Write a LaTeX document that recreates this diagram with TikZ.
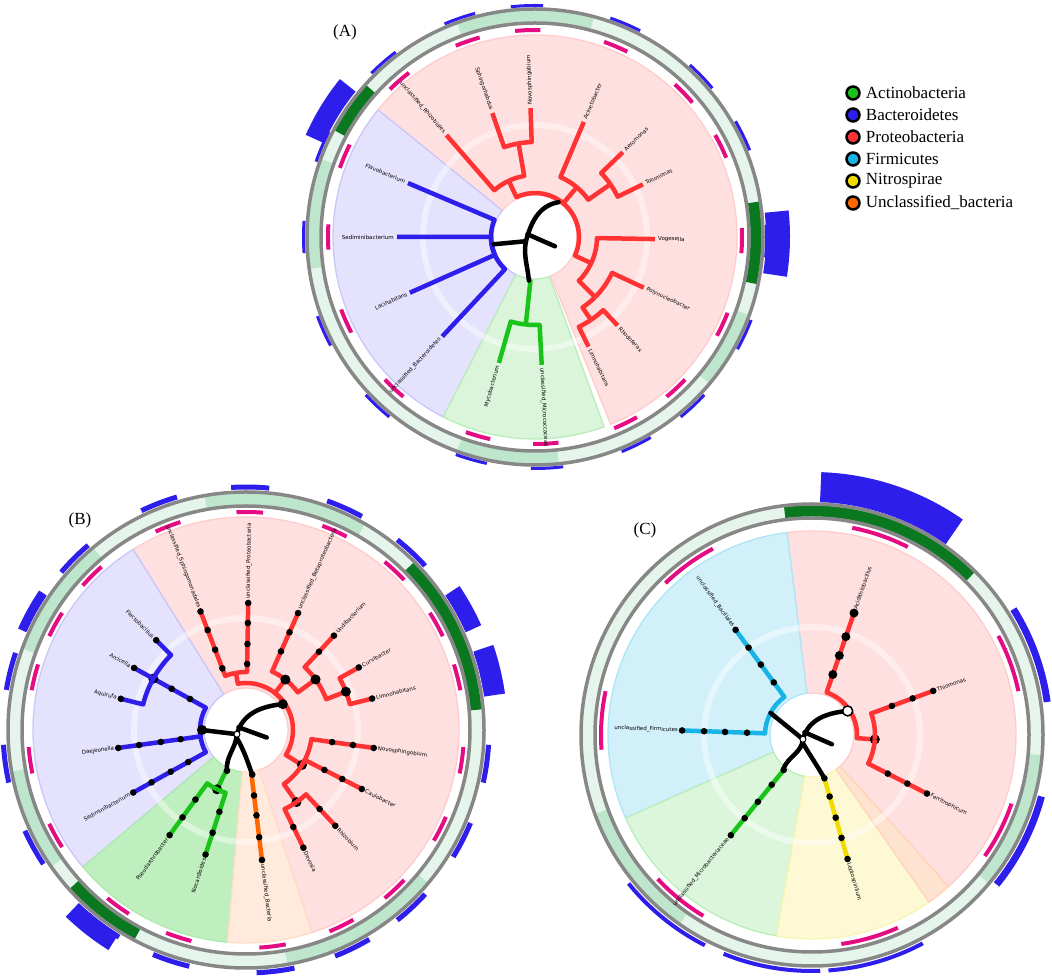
\documentclass[tikz,border=0pt]{standalone}
\usepackage{fontspec}
\setmainfont{Liberation Serif}
\setsansfont{DejaVu Sans}
\usetikzlibrary{calc, positioning}
\definecolor{proteo}{RGB}{255,51,51}
\definecolor{bactero}{RGB}{45,30,235}
\definecolor{actino}{RGB}{25,195,25}
\definecolor{firmi}{RGB}{25,180,230}
\definecolor{nitro}{RGB}{240,220,0}
\definecolor{uncl}{RGB}{255,102,0}
\definecolor{bandlt}{RGB}{230,245,235}
\definecolor{bandmd}{RGB}{190,230,205}
\definecolor{banddk}{RGB}{10,120,30}
\definecolor{ringgrey}{RGB}{135,135,135}
\tikzset{
  branch/.style={line width=4.5pt, line join=round},
  stem/.style={black, line width=4.5pt, line cap=round},
  leaf/.style={font=\sffamily\fontsize{5.5}{6}\selectfont, inner sep=1pt},
  magline/.style={magenta!85!purple, line width=4pt},
  legdot/.style={circle, draw=black, line width=2.5pt, minimum size=13pt, inner sep=0pt},
  legtxt/.style={font=\fontsize{17}{19}\selectfont, inner sep=0pt, anchor=west}
}
% centre, from, to, outer radius, fill, edge
\newcommand\clade[6]{\filldraw[fill=#5, draw=#6, line width=1.3pt]
  ($(#1)+(#2:42)$) arc[start angle=#2, end angle=#3, radius=42]
  -- ($(#1)+(#3:#4)$) arc[start angle=#3, end angle=#2, radius=#4] -- cycle;}
\newcommand\brch[6]{\draw[branch,#6] ($(#1)+(#2:#3)$)
  arc[start angle=#2, end angle=#4, radius=#3] -- ($(#1)+(#4:#5)$);}
\newcommand\tdots[3]{\foreach \rr in {#3} {\fill ($(#1)+(#2:\rr)$) circle (3.3);}}
\newcommand\bigdot[3]{\fill ($(#1)+(#2:#3)$) circle (5);}
\newcommand\labR[4]{\node[leaf, rotate=#2, anchor=west] at ($(#1)+(#2:#3)$) {#4};}
\newcommand\labL[4]{\node[leaf, rotate=#2+180, anchor=east] at ($(#1)+(#2:#3)$) {#4};}
\newcommand\arcband[5]{\draw[#5] ($(#1)+(#2:#4)$) arc[start angle=#2, end angle=#3, radius=#4];}

\begin{document}
\begin{tikzpicture}[x=1pt, y=1pt]
\useasboundingbox (0,0) rectangle (1052,977);
\coordinate (A) at (535,740);
\coordinate (B) at (246,247);
\coordinate (C) at (812,242);

% ---------- (A)
\clade{A}{-68}{141}{202}{proteo!15}{proteo!25}
\clade{A}{141}{243}{202}{bactero!13}{bactero!25}
\clade{A}{243}{290}{202}{actino!16}{actino!30}
\draw[white, opacity=.45, line width=6pt] (A) circle (112);
\fill[white] (A) circle (40);
\draw[line width=11pt, bandlt] (A) circle (221);
\foreach \a/\b in {75/110, 160/188, 250/276, -40/-20} {\arcband{A}{\a}{\b}{221}{line width=11pt, bandmd}}
\foreach \a/\b in {-12/9, 138/152} {\arcband{A}{\a}{\b}{221}{line width=11pt, banddk}}
\draw[ringgrey, line width=3.5pt] (A) circle (214) (A) circle (228);
\foreach \a in {-1,-25,-47,-64,26,44,67,92,109,131,157,180,204,227,254,273}
  {\arcband{A}{\a-3.5}{\a+3.5}{207}{magline}
   \arcband{A}{\a-4}{\a+4}{231.5}{bactero, line width=3pt}}
\arcband{A}{-9}{6}{243}{bactero, line width=24pt}
\arcband{A}{141}{156}{241}{bactero, line width=20pt}
% red
\brch{A}{56}{44}{115}{62}{proteo}
\brch{A}{115}{62}{131}{135}{proteo}
\brch{A}{115}{62}{100}{95}{proteo}
\brch{A}{100}{95}{92}{129}{proteo}
\brch{A}{100}{95}{109}{131}{proteo}
\brch{A}{56}{44}{50}{65}{proteo}
\brch{A}{50}{65}{67}{125}{proteo}
\brch{A}{50}{65}{35}{92}{proteo}
\brch{A}{35}{92}{26}{120}{proteo}
\brch{A}{35}{92}{44}{122}{proteo}
\brch{A}{56}{44}{-25}{62}{proteo}
\brch{A}{-25}{62}{-1}{120}{proteo}
\brch{A}{-25}{62}{-45}{85}{proteo}
\brch{A}{-45}{85}{-25}{120}{proteo}
\brch{A}{-45}{85}{-56}{100}{proteo}
\brch{A}{-56}{100}{-47}{121}{proteo}
\brch{A}{-56}{100}{-64}{122}{proteo}
% blue and green
\foreach \a/\r in {157/138, 180/138, 204/137, 227/136} {\brch{A}{190}{44}{\a}{\r}{bactero}}
\brch{A}{262}{44}{264}{88}{actino}
\brch{A}{264}{88}{254}{131}{actino}
\brch{A}{264}{88}{273}{128}{actino}
\draw[stem] ($(A)+(205:10)$) to[out=75,in=190] ($(A)+(56:42)$);
\draw[stem] ($(A)+(205:10)$) -- ($(A)+(190:42)$);
\draw[stem] ($(A)+(205:10)$) to[out=-100,in=95] ($(A)+(262:44)$);
\draw[stem] ($(A)+(160:8)$) -- ($(A)+(-25:22)$);
\foreach \a/\r/\t in {-1/120/Vogesella, -25/120/Polynucleobacter, -47/121/Rhodoferax,
  -64/122/Limnohabitans, 26/120/Tolumonas, 44/122/Aeromonas, 67/125/Acinetobacter,
  92/129/Novosphingobium, 273/128/unclassified\_Micrococcaceae}
  {\labR{A}{\a}{\r+2}{\t}}
\foreach \a/\r/\t in {109/131/Sphingorhabdus, 131/135/unclassified\_Rhizobiales,
  157/138/Flavobacterium, 180/138/Sediminibacterium, 204/137/Lacihabitans,
  227/136/unclassified\_Bacteroidetes, 254/131/Mycobacterium}
  {\labL{A}{\a}{\r+2}{\t}}

% ---------- (B)
\clade{B}{-72}{122}{213}{proteo!15}{proteo!25}
\clade{B}{122}{220}{213}{bactero!13}{bactero!25}
\clade{B}{220}{265}{213}{actino!28}{actino!35}
\clade{B}{265}{288}{213}{uncl!14}{uncl!22}
\draw[white, opacity=.45, line width=6pt] (B) circle (112);
\fill[white] (B) circle (40);
\draw[line width=11pt, bandlt] (B) circle (231);
\foreach \a/\b in {60/100, 130/160, 190/215, 280/320} {\arcband{B}{\a}{\b}{231}{line width=11pt, bandmd}}
\foreach \a/\b in {5/45, 222/242} {\arcband{B}{\a}{\b}{231}{line width=11pt, banddk}}
\draw[ringgrey, line width=3.5pt] (B) circle (224) (B) circle (238);
\foreach \a in {111,89,66,47,29,14,-8,-27,-47,-64,-83,252,234,209,188,166,151,135}
  {\arcband{B}{\a-3.5}{\a+3.5}{218}{magline}
   \arcband{B}{\a-4.5}{\a+4.5}{243}{bactero, line width=5pt}}
\arcband{B}{24}{34}{249}{bactero, line width=17pt}
\arcband{B}{8}{19}{251}{bactero, line width=21pt}
\arcband{B}{226}{238}{250}{bactero, line width=19pt}
\arcband{B}{146}{156}{245}{bactero, line width=9pt}
% red
\brch{B}{35}{47}{100}{58}{proteo}
\brch{B}{100}{58}{111}{127}{proteo}
\brch{B}{100}{58}{89}{127}{proteo}
\tdots{B}{111}{66,86,107,127}
\tdots{B}{89}{66,86,107,127}
\brch{B}{35}{47}{52}{64}{proteo}
\brch{B}{52}{64}{66}{128}{proteo}
\tdots{B}{66}{86,107,128}
\brch{B}{52}{64}{36}{86}{proteo}
\brch{B}{36}{86}{47}{129}{proteo}
\tdots{B}{47}{107,129}
\brch{B}{36}{86}{21}{107}{proteo}
\brch{B}{21}{107}{29}{129}{proteo}
\brch{B}{21}{107}{14}{130}{proteo}
\tdots{B}{29}{129}
\tdots{B}{14}{130}
\bigdot{B}{52}{64} \bigdot{B}{36}{86} \bigdot{B}{21}{107}
\brch{B}{35}{47}{-32}{66}{proteo}
\bigdot{B}{-32}{66}
\brch{B}{-32}{66}{-8}{129}{proteo}
\tdots{B}{-8}{87,108,129}
\brch{B}{-32}{66}{-27}{130}{proteo}
\tdots{B}{-27}{88,108,130}
\brch{B}{-32}{66}{-55}{88}{proteo}
\bigdot{B}{-55}{88}
\brch{B}{-55}{88}{-47}{131}{proteo}
\brch{B}{-55}{88}{-64}{131}{proteo}
\tdots{B}{-47}{108,131}
\tdots{B}{-64}{108,131}
% orange, green, blue
\brch{B}{278}{45}{277}{131}{uncl}
\tdots{B}{277}{66,86,108,131}
\brch{B}{245}{45}{244}{66}{actino}
\bigdot{B}{244}{66}
\brch{B}{244}{66}{234}{130}{actino}
\brch{B}{244}{66}{252}{131}{actino}
\tdots{B}{234}{86,108,130}
\tdots{B}{252}{86,108,131}
\brch{B}{180}{46}{209}{129}{bactero}
\brch{B}{180}{46}{188}{129}{bactero}
\tdots{B}{209}{66,86,108,129}
\tdots{B}{188}{66,86,108,129}
\brch{B}{180}{46}{151}{106}{bactero}
\tdots{B}{151}{64,85}
\bigdot{B}{151}{106}
\brch{B}{151}{106}{151}{128}{bactero}
\brch{B}{151}{106}{166}{129}{bactero}
\brch{B}{151}{106}{135}{127}{bactero}
\tdots{B}{151}{128} \tdots{B}{166}{129} \tdots{B}{135}{127}
\draw[stem] ($(B)+(205:10)$) to[out=75,in=185] ($(B)+(35:45)$);
\draw[stem] ($(B)+(205:10)$) -- ($(B)+(180:44)$);
\draw[stem] ($(B)+(205:10)$) to[out=-95,in=95] ($(B)+(245:45)$);
\draw[stem] ($(B)+(215:12)$) to[out=-60,in=110] ($(B)+(278:45)$);
\draw[stem] ($(B)+(160:8)$) -- ($(B)+(-20:22)$);
\bigdot{B}{35}{45} \bigdot{B}{180}{44} \tdots{B}{245}{45} \tdots{B}{278}{45}
\draw[black, fill=white, line width=1pt] ($(B)+(205:10)$) circle (3);
\foreach \a/\r/\t in {89/127/unclassified\_Proteobacteria, 66/128/unclassified\_Betaproteobacteria,
  47/129/Undibacterium, 29/129/Curvibacter, 14/130/Limnohabitans, -8/129/Novosphingobium,
  -27/130/Caulobacter, -47/131/Rhizobium, -64/131/Devosia, 277/131/unclassified\_Bacteria}
  {\labR{B}{\a}{\r+3}{\t}}
\foreach \a/\r/\t in {111/127/unclassified\_Sphingomonadales, 135/127/Flectobacillus,
  151/128/Arcicella, 166/129/Aquirufa, 188/129/Daejeonella, 209/129/Sediminibacterium,
  234/130/Pseudarthrobacter, 252/131/Nocardioides}
  {\labL{B}{\a}{\r+3}{\t}}

% ---------- (C)
\clade{C}{-48}{97}{204}{proteo!15}{proteo!25}
\clade{C}{97}{204}{204}{firmi!20}{firmi!35}
\clade{C}{204}{260}{204}{actino!15}{actino!30}
\clade{C}{260}{305}{204}{nitro!17}{nitro!30}
\clade{C}{305}{312}{204}{uncl!18}{uncl!28}
\draw[white, opacity=.45, line width=6pt] (C) circle (108);
\fill[white] (C) circle (40);
\draw[line width=11pt, bandlt] (C) circle (224);
\foreach \a/\b in {-40/-5, 200/235} {\arcband{C}{\a}{\b}{224}{line width=11pt, bandmd}}
\arcband{C}{45}{97}{224}{line width=11pt, banddk}
\draw[ringgrey, line width=3.5pt] (C) circle (217) (C) circle (231);
\foreach \a in {71,20,-27,-74,231,176,126} {\arcband{C}{\a-8}{\a+8}{211}{magline}}
\arcband{C}{55}{88}{248}{bactero, line width=30pt}
\foreach \a/\h in {20/7, -27/7, -74/4, 231/4, 260/4}
  {\arcband{C}{\a-12}{\a+12}{234+\h/2}{bactero, line width=\h pt}}
\brch{C}{34}{45}{71}{64}{proteo}
\brch{C}{71}{64}{71}{129}{proteo}
\foreach \rr in {64,84,104,129} {\fill ($(C)+(71:\rr)$) circle (4.5);}
\brch{C}{34}{45}{-4}{63}{proteo}
\bigdot{C}{-4}{63}
\brch{C}{-4}{63}{20}{129}{proteo}
\brch{C}{-4}{63}{-27}{129}{proteo}
\tdots{C}{20}{85,107,129}
\tdots{C}{-27}{85,107,129}
\brch{C}{286}{45}{286}{129}{nitro}
\tdots{C}{286}{45,64,86,107,129}
\brch{C}{230}{45}{231}{129}{actino}
\tdots{C}{231}{45,64,86,107,129}
\brch{C}{152}{47}{126}{130}{firmi}
\brch{C}{152}{47}{178}{130}{firmi}
\tdots{C}{126}{65,87,108,130}
\tdots{C}{178}{65,87,108,130}
\draw[stem] ($(C)+(205:10)$) to[out=75,in=185] ($(C)+(34:43)$);
\draw[stem] ($(C)+(205:10)$) -- ($(C)+(152:47)$);
\draw[stem] ($(C)+(205:10)$) to[out=-95,in=70] ($(C)+(230:45)$);
\draw[stem] ($(C)+(215:12)$) to[out=-60,in=120] ($(C)+(286:45)$);
\draw[stem] ($(C)+(160:8)$) -- ($(C)+(-25:22)$);
\draw[black, fill=white, line width=1.5pt] ($(C)+(34:43)$) circle (5);
\draw[black, fill=white, line width=1pt] ($(C)+(205:10)$) circle (3);
\foreach \a/\r/\t in {71/129/Acidithiobacillus, 20/129/Thiomonas, -27/129/Ferritrophicum,
  286/129/Leptospirillum}
  {\labR{C}{\a}{\r+3}{\t}}
\foreach \a/\r/\t in {126/130/unclassified\_Bacillales, 178/130/unclassified\_Firmicutes,
  231/129/unclassified\_Microbacteriaceae}
  {\labL{C}{\a}{\r+3}{\t}}

% ---------- panel letters and legend
\node[font=\fontsize{17}{19}\selectfont] (labA) at (345,945) {(A)};
\node[font=\fontsize{17}{19}\selectfont] (labB) at (80,457) {(B)};
\node[font=\fontsize{17}{19}\selectfont] (labC) at (645,447) {(C)};
\foreach \c/\t [count=\i] in {actino/Actinobacteria, bactero/Bacteroidetes, proteo/Proteobacteria,
  firmi/Firmicutes, nitro/Nitrospirae, uncl/Unclassified\_bacteria}
  {\node[legdot, fill=\c] (leg\i) at (853,906-22*\i) {};
   \node[legtxt, right=5pt of leg\i] (legtxt\i) {\t};}
\end{tikzpicture}
\end{document}
